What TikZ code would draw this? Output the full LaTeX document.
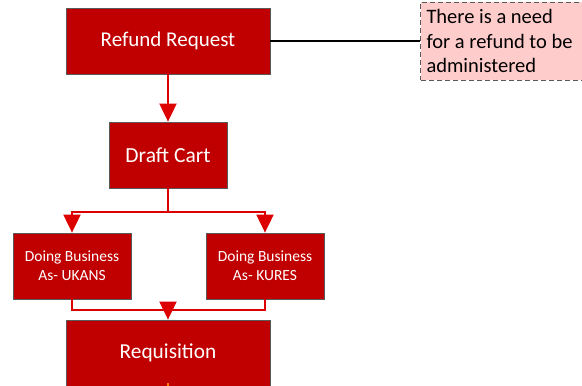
\documentclass[tikz,border=0pt]{standalone}
\usepackage{fontspec}
\setmainfont{Carlito}
\usetikzlibrary{arrows.meta,calc}
\definecolor{boxred}{HTML}{C00000}
\definecolor{linkred}{HTML}{DD0000}
\definecolor{notepink}{HTML}{FFCCCC}
\definecolor{edgegray}{HTML}{595959}
\tikzset{
  stepbox/.style={draw=edgegray,line width=0.8pt,fill=boxred,text=white,
    inner sep=0pt,minimum height=66pt,align=center},
  conn/.style={draw=linkred,line width=2pt},
  arr/.style={conn,-{Triangle[length=18pt,width=17pt]}},
  note/.style={draw=edgegray,dash pattern=on 5pt off 3pt,line width=1pt,
    fill=notepink,minimum width=172pt,minimum height=78pt,inner xsep=6pt,
    align=flush left,text width=160pt,font=\fontsize{20.5}{24.5}\selectfont},
}
\begin{document}
\begin{tikzpicture}[x=1pt,y=-1pt]
  \clip (0,0) rectangle (582,386);
  \useasboundingbox (0,0) rectangle (582,386);

  % process boxes
  \node[stepbox,minimum width=204pt,font=\fontsize{21}{24}\selectfont]
    (rr) at (168,41) {Refund Request};
  \node[stepbox,minimum width=118pt,font=\fontsize{21.5}{24}\selectfont]
    (dc) at (168,155) {Draft Cart};
  \node[stepbox,minimum width=118pt,font=\fontsize{15.5}{19}\selectfont]
    (uk) at (72,266) {Doing Business\\As- UKANS};
  \node[stepbox,minimum width=118pt,font=\fontsize{15.5}{19}\selectfont]
    (ku) at (265,266) {Doing Business\\As- KURES};
  \node[stepbox,minimum width=204pt,font=\fontsize{21.3}{24}\selectfont]
    (rq) at (168,353) {Requisition};

  % annotation
  \node[note,anchor=west] (nt) at (420,41)
    {There is a need\\for a refund to be\\administered};
  \draw[line width=2pt,black] (rr.east) -- (nt.west);

  % flow connectors
  \draw[arr] (rr.south) -- (dc.north);

  \coordinate (split) at ($(dc.south)+(0,24)$);
  \draw[conn] (dc.south) -- (split);
  \draw[arr] (split) -| (uk.north);
  \draw[arr] (split) -| (ku.north);

  \coordinate (join) at ($(rq.north)+(0,-10)$);
  \draw[conn] (uk.south) |- (join);
  \draw[conn] (ku.south) |- (join);
  \draw[arr] (join) -- (rq.north);

  % start of the outgoing link below the requisition
  \draw[orange,line width=2pt] ($(rq.south)+(0,-3)$) -- (rq.south);
\end{tikzpicture}
\end{document}
